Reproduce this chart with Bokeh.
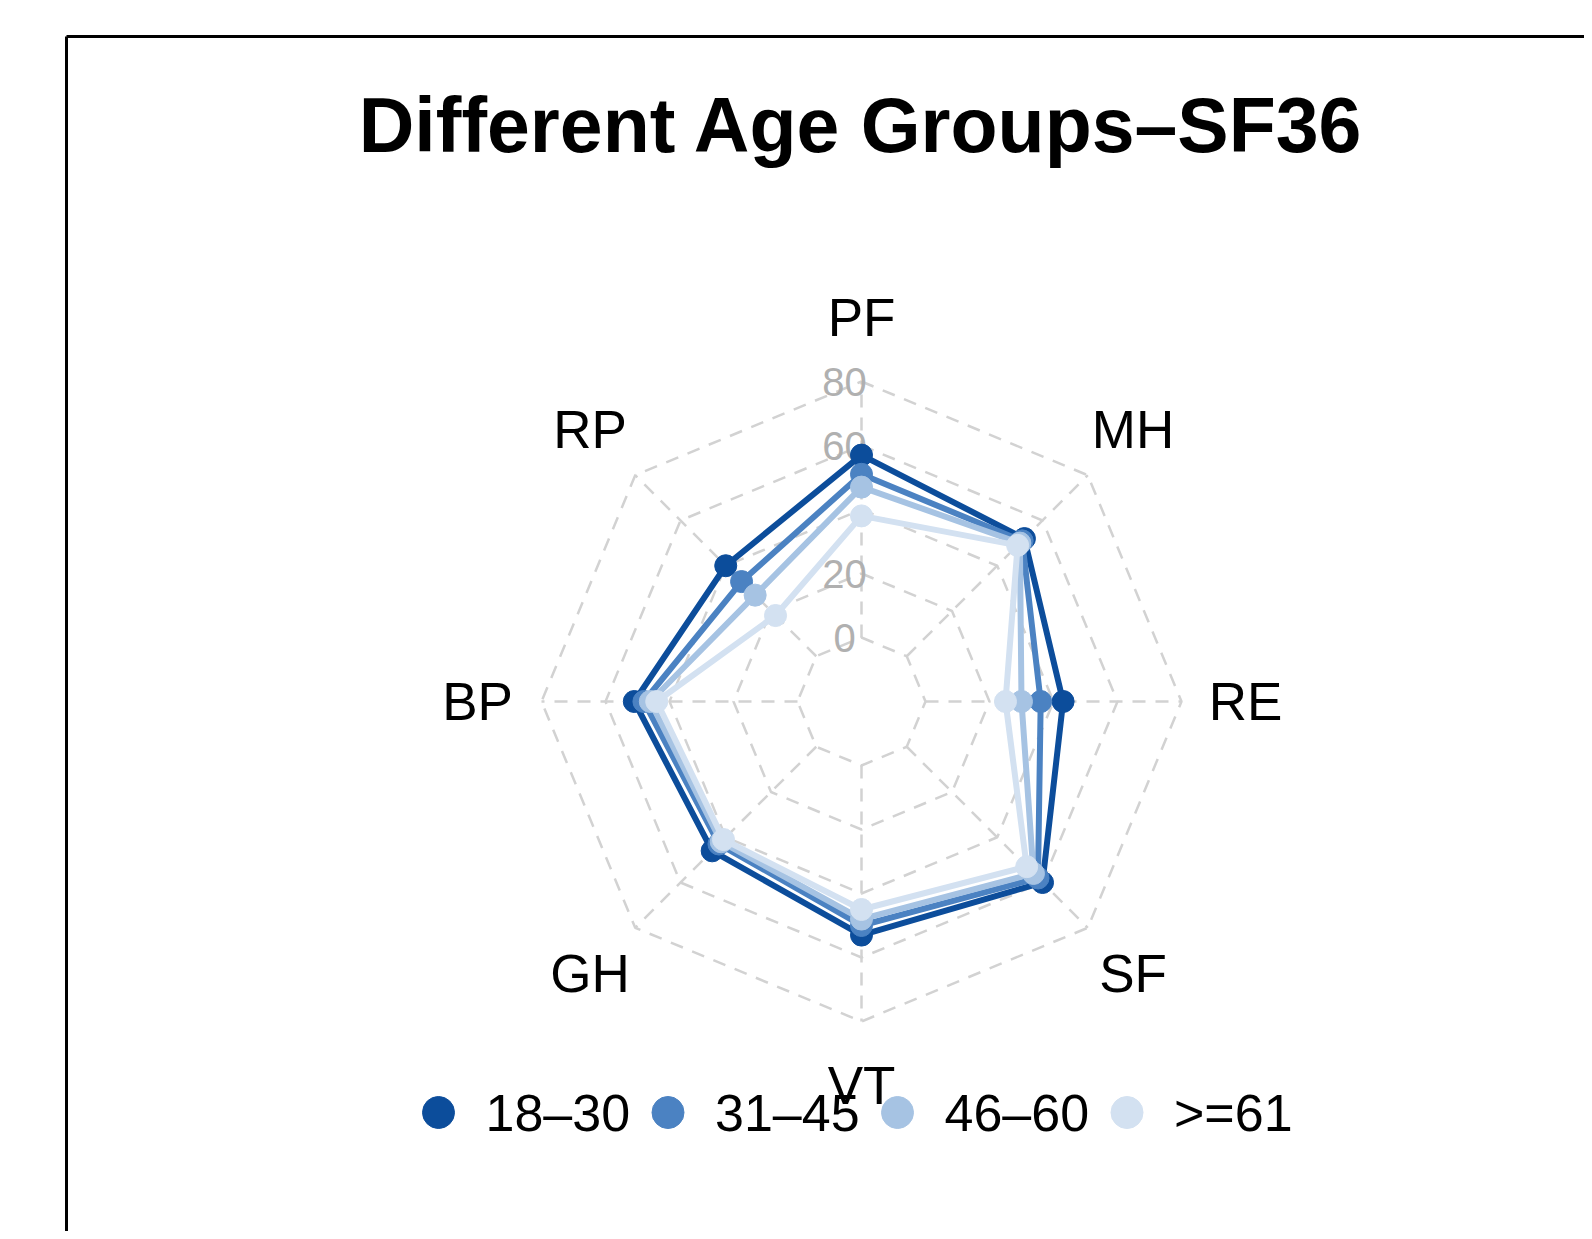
import numpy as np
from bokeh.plotting import figure
from bokeh.models import Range1d
from bokeh.core.properties import value
from bokeh.embed import file_html
from bokeh.resources import INLINE

# ---------------- data ----------------
title_text = "Different Age Groups–SF36"
axes_labels = ["PF", "MH", "RE", "SF", "VT", "GH", "BP", "RP"]
groups = ["18–30", "31–45", "46–60", ">=61"]
g18_30 = [57, 52, 43, 60, 53, 46, 51, 40]
g31_45 = [51, 51, 36, 58, 50, 43, 48, 33]
g46_60 = [47, 50, 30, 56, 48, 42, 46, 27]
g61_up = [38, 49, 25, 53, 45, 41, 44, 18]
ring_values = [0, 20, 40, 60, 80]
ring_label_values = [0, 20, 60, 80]          # "40" is not shown in the reference
ring_labels = ["0", "20", "60", "80"]
label_value = 100

series = [g18_30, g31_45, g46_60, g61_up]
colors = ["#0C4D9B", "#4B82C2", "#A6C3E3", "#D3E1F1"]

# ---------------- layout ----------------
W, H = 1584, 1231
ORIGIN = 0               # page pixel where the figure starts
CX, CY = 861, 701        # page pixel position of radar centre
PX = 3.2                 # pixels per value unit
OFFSET = 20              # value 0 sits at this radial offset

p = figure(width=W, height=H, output_backend="svg", toolbar_location=None,
           x_axis_type=None, y_axis_type=None, min_border=0,
           x_range=Range1d(ORIGIN - CX, ORIGIN + W - CX),
           y_range=Range1d(CY - ORIGIN - H, CY - ORIGIN))
p.grid.visible = False
p.outline_line_color = None
p.background_fill_color = "white"
p.border_fill_color = "white"

n = len(axes_labels)
theta = np.pi / 2 - np.arange(n) * 2 * np.pi / n


def rad(v):
    return (np.asarray(v, dtype=float) + OFFSET) * PX


# frame (partially cropped box)
FX, FY = 66, 36
fx = FX - CX
fy = CY - FY
p.segment(x0=[fx, fx], y0=[fy, fy], x1=[fx, ORIGIN + W - CX + 5], y1=[CY - ORIGIN - H - 5, fy],
          line_color="black", line_width=3)

# grid rings
grid_col = "#D2D2D2"
GRID_DASH = "13 10"
for rv in ring_values:
    r = rad(rv)
    xs = list(r * np.cos(theta)) + [r * np.cos(theta[0])]
    ys = list(r * np.sin(theta)) + [r * np.sin(theta[0])]
    p.line(xs, ys, line_color=grid_col, line_width=2.5, line_dash=GRID_DASH)

# spokes
r0, r1 = rad(ring_values[0]), rad(ring_values[-1])
p.segment(x0=r0 * np.cos(theta), y0=r0 * np.sin(theta),
          x1=r1 * np.cos(theta), y1=r1 * np.sin(theta),
          line_color=grid_col, line_width=2.5, line_dash=GRID_DASH)

# ring labels (slightly left of the vertical spoke)
RING_LABEL_DX = -17
p.text(x=[RING_LABEL_DX] * len(ring_label_values), y=rad(ring_label_values), text=ring_labels,
       text_font=value("Liberation Sans"), text_font_size="40px",
       text_color="#B0B0B0", text_align="center", text_baseline="middle")

# series
for vals, col in zip(series, colors):
    r = rad(vals)
    xs = r * np.cos(theta)
    ys = r * np.sin(theta)
    p.line(list(xs) + [xs[0]], list(ys) + [ys[0]], line_color=col, line_width=6,
           line_join="round")
    p.scatter(xs, ys, size=22, fill_color=col, line_color=col, line_width=1)

# axis labels
rl = rad(label_value)
p.text(x=rl * np.cos(theta), y=rl * np.sin(theta), text=axes_labels,
       text_font=value("Liberation Sans"), text_font_size="53px",
       text_color="black", text_align="center", text_baseline="middle")

# title
TITLE_Y = 124
p.text(x=[0], y=[CY - TITLE_Y], text=[title_text],
       text_font=value("Liberation Sans"), text_font_size="77px", text_font_style="bold",
       text_color="black", text_align="center", text_baseline="middle")

# legend
LEG_Y = CY - 1112
LEG_X0 = 438 - CX
LEG_STEP = 229.5
TXT_GAP = 47
lx = LEG_X0 + np.arange(len(groups)) * LEG_STEP
p.scatter(lx, [LEG_Y] * len(groups), size=32, fill_color=colors, line_color=colors)
p.text(x=lx + TXT_GAP, y=[LEG_Y] * len(groups), text=groups,
       text_font=value("Liberation Sans"), text_font_size="52px",
       text_color="black", text_align="left", text_baseline="middle")

open("out.html", "w").write(file_html(p, INLINE))
